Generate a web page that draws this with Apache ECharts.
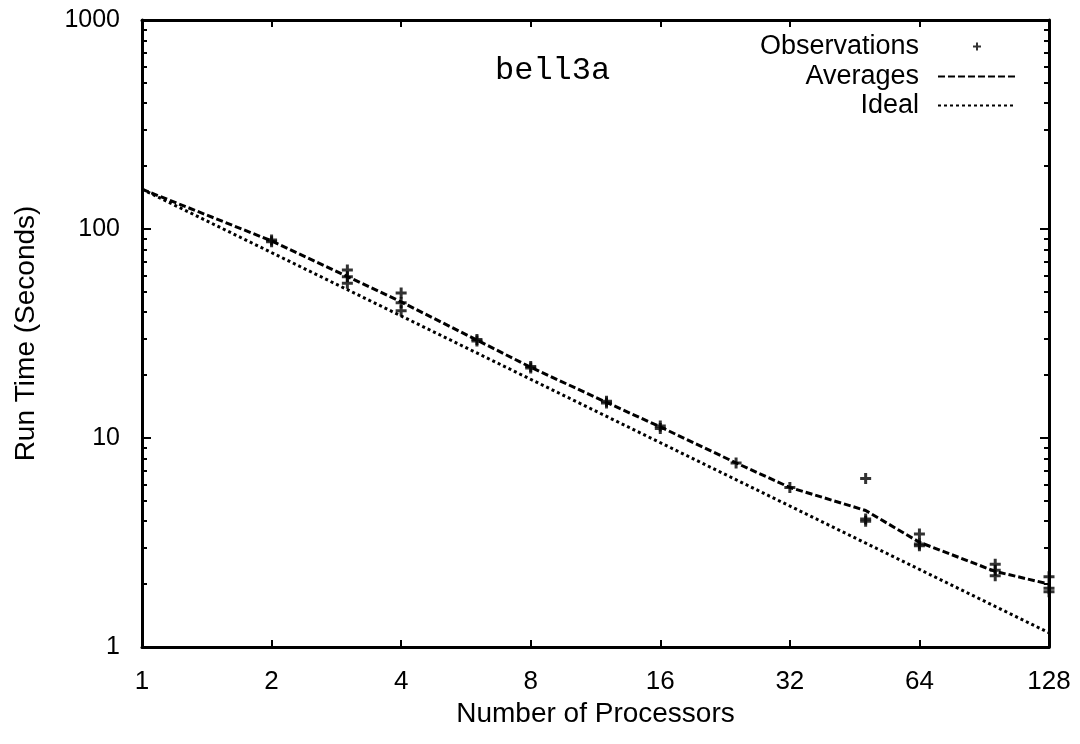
<!DOCTYPE html>
<html>
<head>
<meta charset="utf-8">
<title>bell3a run time</title>
<script src="https://cdn.jsdelivr.net/npm/echarts@6/dist/echarts.min.js"></script>
<style>
  html, body { margin: 0; padding: 0; background: #fff; }
  #chart { width: 1080px; height: 744px; }
</style>
</head>
<body>
<div id="chart"></div>
<script>
// Processor counts on the x axis (log base 2) and tick labels
const xTickLabels = ['1', '2', '4', '8', '16', '32', '64', '128'];
const yTickLabels = ['1', '10', '100', '1000'];

// Individual timing runs: [processors, seconds]
const observations = [
  [2, 88.5], [2, 87.0],
  [3, 63.7], [3, 59.1], [3, 55.0],
  [4, 49.4], [4, 44.4], [4, 40.6],
  [6, 29.6], [6, 29.1],
  [8, 22.0], [8, 21.6],
  [12, 15.0], [12, 14.7],
  [16, 11.4], [16, 11.1],
  [24, 7.6],
  [32, 5.8],
  [48, 6.4], [48, 4.1], [48, 4.0],
  [64, 3.47], [64, 3.11], [64, 3.05],
  [96, 2.49], [96, 2.33], [96, 2.19],
  [128, 2.17], [128, 1.91], [128, 1.84]
];

// Mean run time per processor count
const averages = [
  [1, 155], [2, 87.7], [3, 59.2], [4, 44.8], [6, 29.4], [8, 21.8],
  [12, 14.8], [16, 11.3], [24, 7.6], [32, 5.8], [48, 4.5],
  [64, 3.17], [96, 2.3], [128, 2.0]
];

// Perfect linear speed-up, end points of the straight log-log line
const ideal = [[1, 155], [128, 1.17]];

// Intermediate log ticks between decades
const yMinorTicks = [2, 3, 4, 5, 6, 7, 8, 9, 20, 30, 40, 50, 60, 70, 80, 90, 200, 300, 400, 500, 600, 700, 800, 900];

const FONT = 'Liberation Sans, Arial, sans-serif';
const INK = '#000';

const chart = echarts.init(document.getElementById('chart'), null, { renderer: 'canvas' });

const plusSymbol = 'path://M0,5L10,5M5,0L5,10';

function legendAt(name, top, right, itemHeight) {
  return {
    data: [name],
    right: right,
    top: top,
    orient: 'vertical',
    align: 'right',
    itemWidth: 78,
    itemHeight: itemHeight,
    selectedMode: false,
    itemStyle: { opacity: 0 },
    textStyle: { fontFamily: FONT, fontSize: 27, color: INK, padding: [0, 14, 0, 0] }
  };
}

const obsLegend = legendAt('Observations', 28, 93, 8);
obsLegend.itemStyle = { color: INK, borderColor: INK, borderWidth: 2 };

chart.setOption({
  backgroundColor: '#fff',
  animation: false,
  title: {
    text: 'bell3a',
    left: 490,
    top: 50,
    textStyle: { fontFamily: 'Liberation Mono, DejaVu Sans Mono, monospace', fontSize: 32, fontWeight: 'normal', color: INK }
  },
  legend: [
    obsLegend,
    legendAt('Averages', 58, 58, 12),
    legendAt('Ideal', 87, 58, 12)
  ],
  grid: { left: 142, right: 31, top: 20, bottom: 97, containLabel: false },
  xAxis: [
    {
      type: 'log', logBase: 2, min: 1, max: 128, interval: 1,
      position: 'bottom',
      name: 'Number of Processors',
      nameLocation: 'middle', nameGap: 52,
      nameTextStyle: { fontFamily: FONT, fontSize: 28, color: INK },
      axisLine: { show: true, lineStyle: { color: INK, width: 3 } },
      axisTick: { show: true, inside: true, length: 7, lineStyle: { color: INK, width: 2 } },
      axisLabel: {
        margin: 22, fontFamily: FONT, fontSize: 26, color: INK,
        formatter: v => xTickLabels.includes(String(v)) ? String(v) : ''
      },
      splitLine: { show: false }, minorTick: { show: false }
    },
    {
      type: 'log', logBase: 2, min: 1, max: 128, interval: 1,
      position: 'top',
      axisLine: { show: true, lineStyle: { color: INK, width: 3 } },
      axisTick: { show: true, inside: true, length: 7, lineStyle: { color: INK, width: 2 } },
      axisLabel: { show: false },
      splitLine: { show: false }
    }
  ],
  yAxis: [
    {
      type: 'log', logBase: 10, min: 1, max: 1000, interval: 1,
      position: 'left',
      name: 'Run Time (Seconds)',
      nameLocation: 'middle', nameGap: 102, nameRotate: 90,
      nameTextStyle: { fontFamily: FONT, fontSize: 28, color: INK },
      axisLine: { show: true, lineStyle: { color: INK, width: 3 } },
      axisTick: { show: true, inside: true, length: 9, lineStyle: { color: INK, width: 2 } },
      axisLabel: {
        margin: 22, fontFamily: FONT, fontSize: 25, color: INK,
        formatter: v => yTickLabels.includes(String(v)) ? String(v) : ''
      },
      splitLine: { show: false }
    },
    {
      type: 'log', logBase: 10, min: 1, max: 1000,
      position: 'left',
      axisLine: { show: false },
      axisTick: { show: true, inside: true, length: 5, customValues: yMinorTicks, lineStyle: { color: INK, width: 2 } },
      axisLabel: { show: false },
      splitLine: { show: false }
    },
    {
      type: 'log', logBase: 10, min: 1, max: 1000, interval: 1,
      position: 'right',
      axisLine: { show: true, lineStyle: { color: INK, width: 3 } },
      axisTick: { show: true, inside: true, length: 9, lineStyle: { color: INK, width: 2 } },
      axisLabel: { show: false },
      splitLine: { show: false }
    },
    {
      type: 'log', logBase: 10, min: 1, max: 1000,
      position: 'right',
      axisLine: { show: false },
      axisTick: { show: true, inside: true, length: 5, customValues: yMinorTicks, lineStyle: { color: INK, width: 2 } },
      axisLabel: { show: false },
      splitLine: { show: false }
    }
  ],
  series: [
    {
      name: 'Observations',
      type: 'scatter',
      data: observations,
      symbol: plusSymbol,
      symbolSize: 11,
      itemStyle: { color: INK, borderColor: INK, borderWidth: 3 },
      z: 5
    },
    {
      name: 'Averages',
      type: 'line',
      data: averages,
      symbol: 'none',
      lineStyle: { color: INK, width: 3, type: [7, 3] },
      itemStyle: { color: INK },
      z: 4
    },
    {
      name: 'Ideal',
      type: 'line',
      data: ideal,
      symbol: 'none',
      lineStyle: { color: INK, width: 3, type: [3, 3] },
      itemStyle: { color: INK },
      z: 3
    }
  ]
});
</script>
</body>
</html>
